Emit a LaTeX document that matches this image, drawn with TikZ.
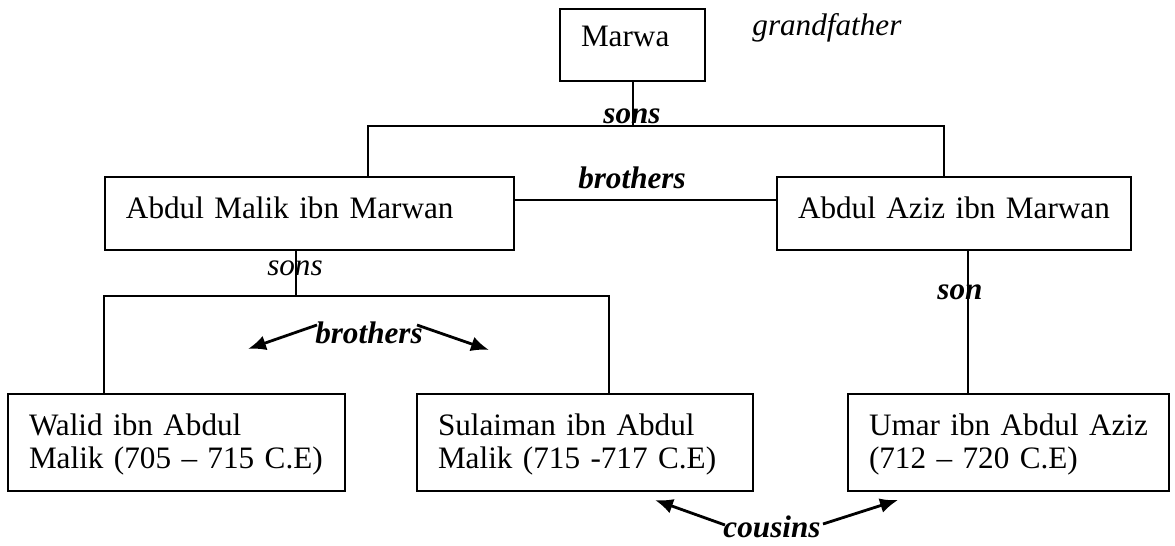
\documentclass[tikz,border=0pt]{standalone}
\usepackage{fontspec}
\setmainfont{Liberation Serif}
\usetikzlibrary{arrows.meta}
\begin{document}
\begin{tikzpicture}[x=0.5pt,y=-0.5pt,
  every node/.style={font=\fontsize{15.6pt}{16.5pt}\selectfont},
  person/.style={draw, line width=1pt, inner xsep=10.5pt, inner ysep=0pt,
    align=left, anchor=north west, text height=0.7em, text depth=0.25em},
  twoline/.style={text depth=0.25em+12pt},
  link/.style={line width=1pt},
  rel/.style={font=\fontsize{15.6pt}{16.5pt}\selectfont\bfseries\itshape, inner sep=0pt, anchor=base},
  relplain/.style={font=\fontsize{15.6pt}{16.5pt}\selectfont\itshape, inner sep=0pt, anchor=base},
  pointer/.style={line width=1.4pt, -{Latex[length=9pt,width=7.5pt]}}]
\useasboundingbox (0,0) rectangle (1175,546);

% people
\node[person, text depth=0.5em, text width=51.5pt, minimum height=36pt] (marwa) at (559,8) {\mbox{Marwa}};
\node[person, text width=183.5pt, minimum height=36.5pt] (am) at (104,176) {\mbox{Abdul Malik ibn Marwan}};
\node[person, text width=156pt, minimum height=36.5pt] (aa) at (776,176) {\mbox{Abdul Aziz ibn Marwan}};
\node[person, twoline, text width=147.5pt, minimum height=48.5pt] (walid) at (7,393)
  {\mbox{Walid ibn Abdul}\\\mbox{Malik (705 -- 715 C.E)}};
\node[person, twoline, text width=147pt, minimum height=48.5pt] (sul) at (416,393)
  {\mbox{Sulaiman ibn Abdul}\\\mbox{Malik (715 -717 C.E)}};
\node[person, twoline, text width=139.5pt, minimum height=48.5pt] (umar) at (847,393)
  {\mbox{Umar ibn Abdul Aziz}\\\mbox{(712 -- 720 C.E)}};

% junction points
\coordinate (tl) at (368,126);
\coordinate (tr) at (944,126);
\coordinate (bro) at (0,200);
\coordinate (sj) at (296,296);
\coordinate (wl) at (104,296);
\coordinate (sr) at (609,296);
\coordinate (ux) at (968,0);

% tree lines
\draw[link] (marwa.south) -- (marwa.south |- tl);
\draw[link] (am.north -| tl) -- (tl) -- (tr) -- (aa.north -| tr);
\draw[link] (am.east |- bro) -- (aa.west |- bro);
\draw[link] (am.south -| sj) -- (sj);
\draw[link] (walid.north -| wl) -- (wl) -- (sr) -- (sul.north -| sr);
\draw[link] (aa.south -| ux) -- (umar.north -| ux);

% labels
\node[relplain, anchor=base west] (gf) at (752,35) {grandfather};
\node[rel] (sons1) at (632,123) {sons};
\node[rel] (bros1) at (632,188) {brothers};
\node[relplain] (sons2) at (295,275) {sons};
\node[rel] (bros2) at (369,343) {brothers};
\node[rel] (son) at (960,299) {son};
\node[rel] (cous) at (772,537) {cousins};

% relation arrows
\coordinate (b2l) at (317,325);
\coordinate (b2lt) at (248,349);
\coordinate (b2r) at (417,325);
\coordinate (b2rt) at (489,350);
\coordinate (cl) at (725,525);
\coordinate (clt) at (655,500);
\coordinate (cr) at (823,524);
\coordinate (crt) at (898,500);
\draw[pointer] (b2l) -- (b2lt);
\draw[pointer] (b2r) -- (b2rt);
\draw[pointer] (cl) -- (clt);
\draw[pointer] (cr) -- (crt);
\end{tikzpicture}
\end{document}
